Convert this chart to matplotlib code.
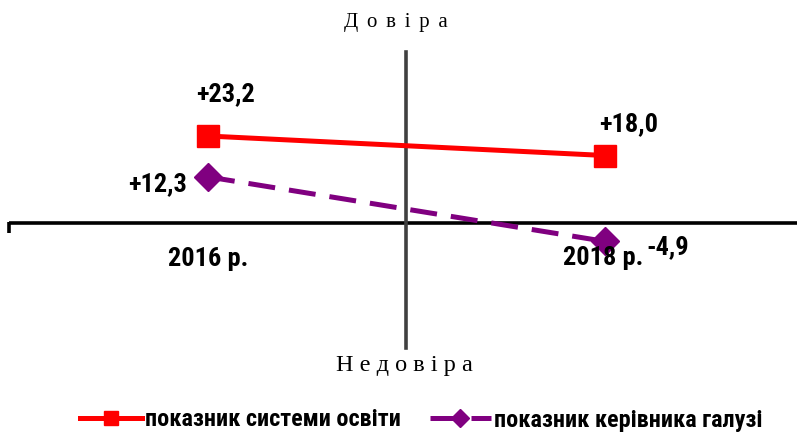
import matplotlib
matplotlib.use("Agg")
import matplotlib.pyplot as plt
from matplotlib import font_manager

years = ["2016 р.", "2018 р."]
system_vals = [23.2, 18.0]
leader_vals = [12.3, -4.9]
system_labels = ["+23,2", "+18,0"]
leader_labels = ["+12,3", "-4,9"]
series_names = ["показник системи освіти", "показник керівника галузі"]

names = {f.name for f in font_manager.fontManager.ttflist}
narrow = "Liberation Sans"
for cand in ["Liberation Sans Narrow", "Roboto Condensed", "DejaVu Sans Condensed",
             "Open Sans Condensed", "Noto Sans Condensed", "Archivo Narrow"]:
    if cand in names:
        narrow = cand
        break

fig = plt.figure(figsize=(7.97, 4.34), dpi=100)
ax = fig.add_axes([0, 0, 1, 1])
ax.set_xlim(-0.524, 1.484)
ax.set_ylim(-56.27, 59.47)
ax.axis("off")

# axes cross
ax.plot([-0.502, 1.484], [0, 0], color="black", lw=2.6, solid_capstyle="butt", zorder=1)
ax.plot([-0.502, -0.502], [0.3, -2.6], color="black", lw=2.6, solid_capstyle="butt", zorder=1)
ax.plot([0.5, 0.5], [45.6, -33.3], color="#404040", lw=2.6, zorder=1)

x = [0, 1]
ax.plot(x, system_vals, color="#ff0000", lw=3.6, marker="s", markersize=16.5,
        zorder=3, label=series_names[0])
ax.plot(x, leader_vals, color="#800080", lw=3.6, ls=(0, (5.4, 2.8)), marker="D",
        markersize=14.3, zorder=3, label=series_names[1])

bold = dict(family=[narrow, "DejaVu Sans"], fontweight="bold", fontsize=19, color="black")
ax.text(0.045, 34.4, system_labels[0], ha="center", va="center", **bold)
ax.text(1.06, 26.4, system_labels[1], ha="center", va="center", **bold)
ax.text(-0.127, 10.4, leader_labels[0], ha="center", va="center", **bold)
ax.text(1.159, -6.5, leader_labels[1], ha="center", va="center", **bold)
ax.text(0.001, -9.6, years[0], ha="center", va="center", **bold)
ax.text(0.996, -9.3, years[1], ha="center", va="center", **bold)

sp = " \u2006"
ax.text(0.4736, 53.6, sp.join("Довіра"), ha="center", va="center",
        family=["Liberation Serif", "DejaVu Serif"], fontsize=15, color="black")
ax.text(0.496, -38.0, " ".join("Недовіра"), ha="center", va="center",
        family=["Liberation Serif", "DejaVu Serif"], fontsize=17.5, color="black")

leg = fig.legend(loc="center left", bbox_to_anchor=(80 / 797, 1 - 420 / 434), ncol=2,
                 frameon=False, borderpad=0, borderaxespad=0,
                 prop={"family": [narrow, "DejaVu Sans"], "weight": "bold", "size": 17.4},
                 handlelength=2.55, handletextpad=0.13, columnspacing=1.2, markerscale=0.65)
fig.savefig("out.png", dpi=100)
